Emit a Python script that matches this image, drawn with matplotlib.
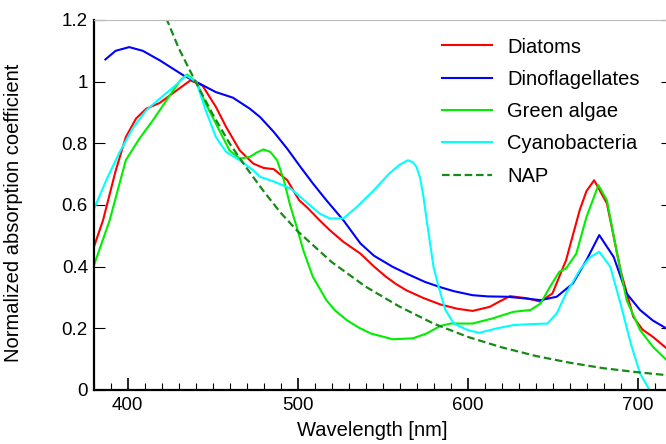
import numpy as np
import matplotlib
matplotlib.use("Agg")
import matplotlib.pyplot as plt
from matplotlib.ticker import MultipleLocator

plt.rcParams["font.family"] = ["Liberation Sans", "DejaVu Sans"]

# values
diatoms_wl = [380, 385.6, 393, 399, 405, 411, 419, 429, 437, 444, 452, 458, 466, 474, 480,
              486, 494, 501, 506, 513, 519, 527, 537, 545, 552, 558, 564, 574, 584, 594, 603,
              613, 619, 625, 635, 643, 650, 658, 666, 670, 674.5, 682, 690, 697.5, 703, 709,
              717, 720]
diatoms = [0.46, 0.55, 0.71, 0.82, 0.88, 0.912, 0.931, 0.972, 1.004, 0.988, 0.918, 0.853, 0.777,
           0.734, 0.72, 0.716, 0.68, 0.615, 0.59, 0.55, 0.518, 0.48, 0.442, 0.40, 0.367, 0.343,
           0.323, 0.298, 0.277, 0.263, 0.256, 0.269, 0.287, 0.304, 0.297, 0.286, 0.313, 0.421,
           0.583, 0.645, 0.68, 0.605, 0.388, 0.237, 0.195, 0.172, 0.135, 0.125]

dino_wl = [387, 393, 401, 409, 419, 433, 440.5, 452, 462, 472, 478, 486, 494, 501.5, 509, 517,
           527, 537, 545, 556, 565, 575, 584, 592, 603, 612, 623, 633, 643, 652.5, 662, 670,
           677.5, 686, 693.5, 701.5, 709, 717, 720]
dino = [1.072, 1.10, 1.112, 1.10, 1.069, 1.02, 0.999, 0.966, 0.948, 0.912, 0.885, 0.837, 0.782,
        0.725, 0.67, 0.615, 0.55, 0.475, 0.435, 0.399, 0.375, 0.35, 0.333, 0.32, 0.307, 0.303,
        0.302, 0.297, 0.291, 0.302, 0.345, 0.421, 0.502, 0.431, 0.313, 0.259, 0.225, 0.199,
        0.19]

green_wl = [380, 389.5, 399, 407, 415, 423, 431, 435, 440.5, 446, 454, 460, 466, 472, 476, 480,
            484, 488, 492, 495.6, 499.5, 503.4, 509, 517, 522, 529, 536, 543, 556, 568, 576, 584,
            590, 603, 615, 627, 637, 643, 648.5, 654, 658, 664, 670, 677, 682, 688, 693.6,
            701.5, 709, 717, 720]
green = [0.40, 0.55, 0.745, 0.815, 0.875, 0.94, 1.004, 1.023, 0.999, 0.929, 0.842, 0.777, 0.75,
         0.756, 0.77, 0.78, 0.772, 0.745, 0.68, 0.60, 0.529, 0.453, 0.367, 0.291, 0.258, 0.226,
         0.202, 0.183, 0.164, 0.167, 0.183, 0.207, 0.215, 0.215, 0.232, 0.253, 0.259, 0.28,
         0.334, 0.383, 0.394, 0.442, 0.561, 0.664, 0.615, 0.442, 0.291, 0.194, 0.14, 0.097,
         0.09]

cyano_wl = [380, 387.5, 395, 403, 411, 419, 427, 434.6, 440.5, 446, 452, 458, 466, 474, 478,
            486, 496, 505, 513, 519, 527, 535, 545, 554, 560, 565, 568, 570, 572, 574, 576, 580,
            583, 587, 592, 600, 607, 617, 627, 637, 647, 652.5, 658, 666, 672, 677.5, 684, 690,
            696, 701.5, 707, 712]
cyano = [0.583, 0.68, 0.767, 0.848, 0.907, 0.945, 0.982, 1.02, 0.999, 0.907, 0.82, 0.772, 0.745,
         0.712, 0.691, 0.676, 0.653, 0.61, 0.572, 0.556, 0.556, 0.594, 0.648, 0.702, 0.73,
         0.745, 0.738, 0.723, 0.69, 0.63, 0.55, 0.399, 0.334, 0.259, 0.215, 0.194, 0.185, 0.199,
         0.21, 0.213, 0.215, 0.248, 0.313, 0.388, 0.43, 0.448, 0.399, 0.28, 0.151, 0.053, 0.0,
         -0.08]

nap_wl = [420, 424, 430, 440, 450, 460, 470, 480, 490, 500, 520, 540, 560, 580, 600, 620, 640,
          660, 680, 700, 720]
nap = [1.24, 1.19, 1.11, 1.0, 0.895, 0.80, 0.72, 0.645, 0.575, 0.515, 0.415, 0.335, 0.27,
       0.215, 0.172, 0.138, 0.11, 0.088, 0.07, 0.057, 0.046]

ytick_vals = [0, 0.2, 0.4, 0.6, 0.8, 1.0, 1.2]
ytick_labels = ["0", "0.2", "0.4", "0.6", "0.8", "1", "1.2"]
xtick_vals = [400, 500, 600, 700]

W, H = 666, 444
fig = plt.figure(figsize=(W / 100, H / 100), dpi=100)
# right part of the axes is cut off by the figure edge, like in the reference
ax = fig.add_axes([93.5 / W, (H - 389.8) / H, 578 / W, (389.8 - 20) / H])

ax.plot(diatoms_wl, diatoms, color="#ff0000", lw=1.5, label="Diatoms")
ax.plot(dino_wl, dino, color="#0000ff", lw=1.5, label="Dinoflagellates")
ax.plot(green_wl, green, color="#00ee00", lw=1.5, label="Green algae")
ax.plot(cyano_wl, cyano, color="#00ffff", lw=1.5, label="Cyanobacteria")
ax.plot(nap_wl, nap, color="#178a17", lw=1.6, dashes=(3.4, 1.7), label="NAP")

ax.set_xlim(380, 720)
ax.set_ylim(0, 1.2)
ax.set_xticks(xtick_vals)
ax.xaxis.set_minor_locator(MultipleLocator(10))
ax.set_yticks(ytick_vals)
ax.set_yticklabels(ytick_labels)

ax.tick_params(axis="x", which="major", direction="in", length=9, width=1.2,
               labelsize=13.5, pad=5, top=False)
ax.tick_params(axis="x", which="minor", direction="in", length=5, width=0.8, top=False)
ax.tick_params(axis="y", which="major", direction="in", length=8, width=0.8,
               labelsize=13.5, pad=4, right=True)

for side in ["left", "bottom", "right"]:
    ax.spines[side].set_linewidth(1.6)
ax.spines["top"].set_color("#bbbbbb")
ax.spines["top"].set_linewidth(0.8)

ax.set_xlabel("Wavelength [nm]", fontsize=14.5)
ax.set_ylabel("Normalized absorption coefficient", fontsize=14.5)
ax.xaxis.set_label_coords((372.5 - 93.5) / 578, -(421 - 389.8) / 369.8)
ax.yaxis.set_label_coords(-(93.5 - 23.5) / 578, (389.8 - 213) / 369.8)

leg = fig.legend(loc="upper left", bbox_to_anchor=(442 / W, 1 - 37.5 / H), frameon=False,
                 fontsize=14.5, handlelength=2.5, handletextpad=0.75, labelspacing=0.66,
                 borderpad=0, borderaxespad=0)

fig.savefig("out.png", dpi=100)
